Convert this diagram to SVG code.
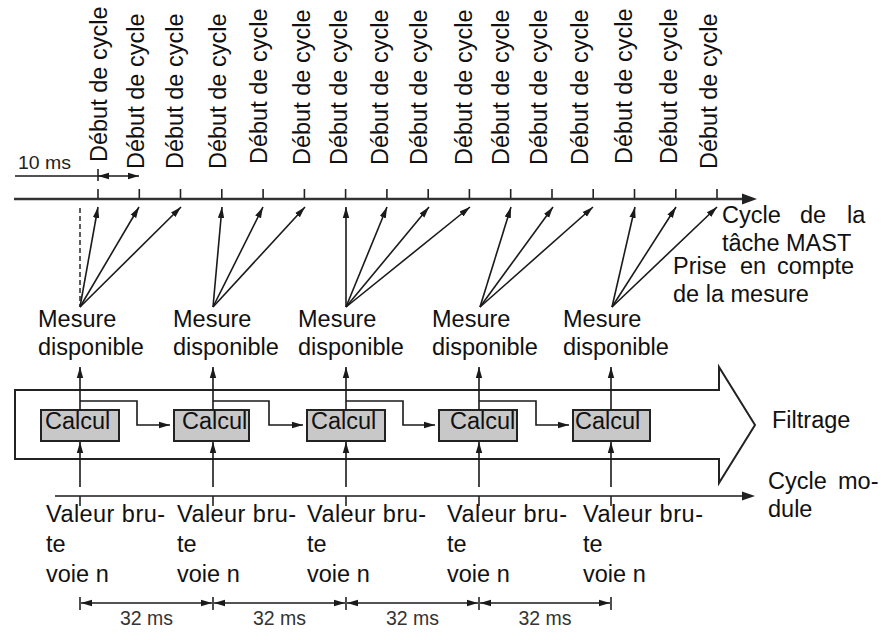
<svg xmlns="http://www.w3.org/2000/svg" width="893" height="640" viewBox="0 0 893 640">
  <style>
    text { font-family: "Liberation Sans", Arial, sans-serif; font-size: 23.5px; fill: #111; }
    .small { font-size: 18px; fill: #222; }
    .dim { font-size: 19.5px; fill: #333; }
    .ln { stroke: #1a1a1a; stroke-width: 1.6; fill: none; }
    .axis { stroke: #333; stroke-width: 2.6; fill: none; }
    .tick { stroke: #222; stroke-width: 1.6; fill: none; }
    .arr { stroke: #1a1a1a; stroke-width: 1.6; fill: none; marker-end: url(#ah); }
    .dbl { stroke: #1a1a1a; stroke-width: 1.6; fill: none; marker-end: url(#ah); marker-start: url(#ah); }
    .box { fill: #c8c8c8; stroke: #222; stroke-width: 2; }
    .shape { fill: none; stroke: #222; stroke-width: 2; }
  </style>
  <defs>
    <marker id="ah" markerUnits="userSpaceOnUse" markerWidth="12" markerHeight="8" refX="11" refY="4" orient="auto-start-reverse">
      <path d="M0,0.8 L11,4 L0,7.2 z" fill="#1a1a1a"/>
    </marker>
  </defs>

  <rect width="893" height="640" fill="#fff"/>

  <!-- MAST task time axis with cycle ticks -->
  <g id="mast-axis">
    <line class="axis" x1="14" y1="199" x2="744" y2="199"/>
    <path d="M757,199 L742,193.5 L742,204.5 z" fill="#222"/>
    <g class="tick">
      <line x1="98" y1="189" x2="98" y2="198"/>
      <line x1="139.3" y1="189" x2="139.3" y2="198"/>
      <line x1="180.5" y1="189" x2="180.5" y2="198"/>
      <line x1="221.8" y1="189" x2="221.8" y2="198"/>
      <line x1="263.1" y1="189" x2="263.1" y2="198"/>
      <line x1="304.4" y1="189" x2="304.4" y2="198"/>
      <line x1="345.6" y1="189" x2="345.6" y2="198"/>
      <line x1="386.9" y1="189" x2="386.9" y2="198"/>
      <line x1="428.2" y1="189" x2="428.2" y2="198"/>
      <line x1="469.4" y1="189" x2="469.4" y2="198"/>
      <line x1="510.7" y1="189" x2="510.7" y2="198"/>
      <line x1="552" y1="189" x2="552" y2="198"/>
      <line x1="593.2" y1="189" x2="593.2" y2="198"/>
      <line x1="634.5" y1="189" x2="634.5" y2="198"/>
      <line x1="675.8" y1="189" x2="675.8" y2="198"/>
      <line x1="717" y1="189" x2="717" y2="198"/>
    </g>
    <text x="722" y="223">Cycle</text>
    <text x="800" y="223">de</text>
    <text x="847" y="223">la</text>
    <text x="722" y="251">tâche MAST</text>
  </g>

  <!-- cycle start labels -->
  <g id="cycle-labels">
    <text transform="translate(107,162) rotate(-90)">Début de cycle</text>
    <text transform="translate(144,169) rotate(-90)">Début de cycle</text>
    <text transform="translate(183,169) rotate(-90)">Début de cycle</text>
    <text transform="translate(226,169) rotate(-90)">Début de cycle</text>
    <text transform="translate(267,164) rotate(-90)">Début de cycle</text>
    <text transform="translate(310,165) rotate(-90)">Début de cycle</text>
    <text transform="translate(347,165) rotate(-90)">Début de cycle</text>
    <text transform="translate(388,165) rotate(-90)">Début de cycle</text>
    <text transform="translate(427,165) rotate(-90)">Début de cycle</text>
    <text transform="translate(472,165) rotate(-90)">Début de cycle</text>
    <text transform="translate(509,165) rotate(-90)">Début de cycle</text>
    <text transform="translate(547,165) rotate(-90)">Début de cycle</text>
    <text transform="translate(588,165) rotate(-90)">Début de cycle</text>
    <text transform="translate(632,164) rotate(-90)">Début de cycle</text>
    <text transform="translate(677,164) rotate(-90)">Début de cycle</text>
    <text transform="translate(717,169) rotate(-90)">Début de cycle</text>
  </g>

  <!-- 10 ms period marker -->
  <g id="period-10ms">
    <text class="small" x="18" y="169" textLength="53" lengthAdjust="spacingAndGlyphs">10 ms</text>
    <line class="ln" x1="15" y1="176" x2="98" y2="176"/>
    <line class="tick" x1="98" y1="169" x2="98" y2="181"/>
    <line class="dbl" x1="98" y1="176" x2="139" y2="176"/>
  </g>

  <!-- measurement take-up label -->
  <g id="prise-label">
    <text x="673" y="274">Prise</text>
    <text x="740" y="274">en</text>
    <text x="777" y="274">compte</text>
    <text x="673" y="302">de la mesure</text>
  </g>

  <!-- measure available nodes -->
  <g id="mesure-1">
    <text x="38" y="327">Mesure</text>
    <text x="38" y="355">disponible</text>
  </g>
  <g id="mesure-2">
    <text x="173" y="327">Mesure</text>
    <text x="173" y="355">disponible</text>
  </g>
  <g id="mesure-3">
    <text x="298" y="327">Mesure</text>
    <text x="298" y="355">disponible</text>
  </g>
  <g id="mesure-4">
    <text x="432" y="327">Mesure</text>
    <text x="432" y="355">disponible</text>
  </g>
  <g id="mesure-5">
    <text x="563" y="327">Mesure</text>
    <text x="563" y="355">disponible</text>
  </g>

  <!-- filtering band -->
  <g id="filtrage">
    <path class="shape" d="M15,390 L719,390 L719,367 L755,425 L719,483 L719,459 L15,459 Z"/>
    <text x="772" y="428">Filtrage</text>
  </g>

  <!-- computation blocks -->
  <g id="calcul-1">
    <rect class="box" x="41" y="410" width="78" height="31"/>
    <text x="45" y="429">Calcul</text>
  </g>
  <g id="calcul-2">
    <rect class="box" x="174" y="410" width="75" height="31"/>
    <text x="182" y="429">Calcul</text>
  </g>
  <g id="calcul-3">
    <rect class="box" x="307" y="410" width="78" height="31"/>
    <text x="311" y="429">Calcul</text>
  </g>
  <g id="calcul-4">
    <rect class="box" x="439" y="410" width="78" height="31"/>
    <text x="450" y="429">Calcul</text>
  </g>
  <g id="calcul-5">
    <rect class="box" x="573" y="410" width="77" height="31"/>
    <text x="575" y="429">Calcul</text>
  </g>

  <!-- module cycle axis -->
  <g id="module-axis">
    <line class="ln" x1="55" y1="496" x2="744" y2="496"/>
    <path d="M755,496 L742,491.5 L742,500.5 z" fill="#222"/>
    <g class="tick">
      <line x1="80" y1="496" x2="80" y2="506"/>
      <line x1="213" y1="496" x2="213" y2="506"/>
      <line x1="346" y1="496" x2="346" y2="506"/>
      <line x1="479" y1="496" x2="479" y2="506"/>
      <line x1="611" y1="496" x2="611" y2="506"/>
    </g>
    <text x="768" y="489">Cycle</text>
    <text x="838" y="489">mo-</text>
    <text x="768" y="517">dule</text>
  </g>

  <!-- raw value inputs -->
  <g id="valeur-1">
    <text x="46" y="522" textLength="119" lengthAdjust="spacing">Valeur bru-</text>
    <text x="46" y="552">te</text>
    <text x="46" y="582">voie n</text>
  </g>
  <g id="valeur-2">
    <text x="177" y="522" textLength="119" lengthAdjust="spacing">Valeur bru-</text>
    <text x="177" y="552">te</text>
    <text x="177" y="582">voie n</text>
  </g>
  <g id="valeur-3">
    <text x="307" y="522" textLength="119" lengthAdjust="spacing">Valeur bru-</text>
    <text x="307" y="552">te</text>
    <text x="307" y="582">voie n</text>
  </g>
  <g id="valeur-4">
    <text x="447" y="522" textLength="120" lengthAdjust="spacing">Valeur bru-</text>
    <text x="447" y="552">te</text>
    <text x="447" y="582">voie n</text>
  </g>
  <g id="valeur-5">
    <text x="583" y="522" textLength="120" lengthAdjust="spacing">Valeur bru-</text>
    <text x="583" y="552">te</text>
    <text x="583" y="582">voie n</text>
  </g>

  <!-- 32 ms dimension chain -->
  <g id="period-32ms">
    <g class="tick">
      <line x1="80" y1="597" x2="80" y2="610"/>
      <line x1="213" y1="597" x2="213" y2="610"/>
      <line x1="346" y1="597" x2="346" y2="610"/>
      <line x1="479" y1="597" x2="479" y2="610"/>
      <line x1="611" y1="597" x2="611" y2="610"/>
    </g>
    <line class="dbl" x1="81" y1="603" x2="212" y2="603"/>
    <line class="dbl" x1="214" y1="603" x2="345" y2="603"/>
    <line class="dbl" x1="347" y1="603" x2="478" y2="603"/>
    <line class="dbl" x1="480" y1="603" x2="610" y2="603"/>
    <text class="dim" x="146.5" y="625" text-anchor="middle">32 ms</text>
    <text class="dim" x="279.5" y="625" text-anchor="middle">32 ms</text>
    <text class="dim" x="412.5" y="625" text-anchor="middle">32 ms</text>
    <text class="dim" x="545" y="625" text-anchor="middle">32 ms</text>
  </g>

  <!-- connectors -->
  <g id="connectors">
    <!-- measure to cycle take-up -->
    <line x1="80" y1="208" x2="80" y2="306" stroke="#333" stroke-width="1.6" stroke-dasharray="5,3"/>
    <line class="arr" x1="80" y1="307" x2="98" y2="207"/>
    <line class="arr" x1="80" y1="307" x2="139" y2="207"/>
    <line class="arr" x1="80" y1="307" x2="181" y2="207"/>

    <line class="arr" x1="213" y1="307" x2="222" y2="207"/>
    <line class="arr" x1="213" y1="307" x2="263" y2="207"/>
    <line class="arr" x1="213" y1="307" x2="305" y2="207"/>

    <line class="arr" x1="346" y1="307" x2="346" y2="207"/>
    <line class="arr" x1="346" y1="307" x2="387" y2="207"/>
    <line class="arr" x1="346" y1="307" x2="429" y2="207"/>
    <line class="arr" x1="346" y1="307" x2="470" y2="207"/>

    <line class="arr" x1="480" y1="307" x2="511" y2="207"/>
    <line class="arr" x1="480" y1="307" x2="553" y2="207"/>
    <line class="arr" x1="480" y1="307" x2="593" y2="207"/>

    <line class="arr" x1="612" y1="307" x2="635" y2="207"/>
    <line class="arr" x1="612" y1="307" x2="676" y2="207"/>
    <line class="arr" x1="612" y1="307" x2="717" y2="207"/>

    <!-- computation output to measure -->
    <line class="arr" x1="80" y1="410" x2="80" y2="367"/>
    <line class="arr" x1="213" y1="410" x2="213" y2="367"/>
    <line class="arr" x1="346" y1="410" x2="346" y2="367"/>
    <line class="arr" x1="479" y1="410" x2="479" y2="367"/>
    <line class="arr" x1="611" y1="410" x2="611" y2="367"/>

    <!-- raw value into computation -->
    <line class="arr" x1="80" y1="487" x2="80" y2="442"/>
    <line class="arr" x1="213" y1="487" x2="213" y2="442"/>
    <line class="arr" x1="346" y1="487" x2="346" y2="442"/>
    <line class="arr" x1="479" y1="487" x2="479" y2="442"/>
    <line class="arr" x1="611" y1="487" x2="611" y2="442"/>

    <!-- filter state carried to next computation -->
    <path class="arr" d="M80,401 H137 V425 H170"/>
    <path class="arr" d="M213,401 H269 V425 H303"/>
    <path class="arr" d="M346,401 H403 V425 H435"/>
    <path class="arr" d="M479,401 H536 V425 H569"/>
  </g>
</svg>
